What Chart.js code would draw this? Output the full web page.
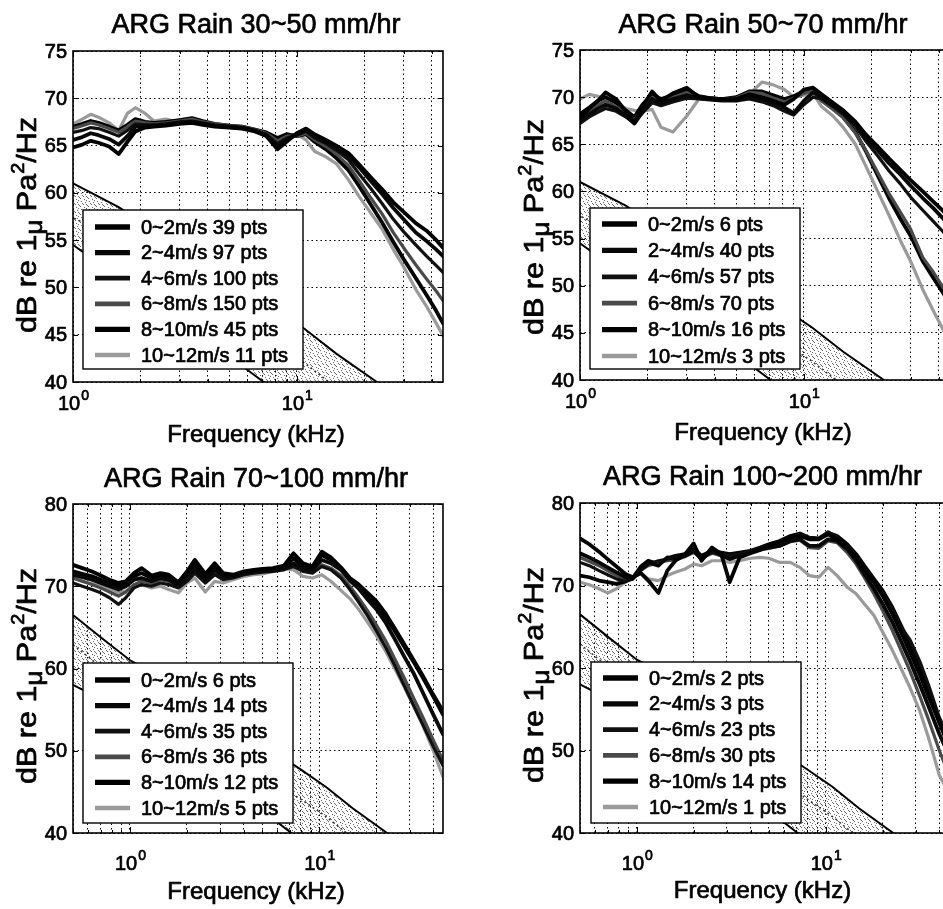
<!DOCTYPE html>
<html><head><meta charset="utf-8">
<script src="https://cdn.jsdelivr.net/npm/chart.js@4.4.1/dist/chart.umd.min.js"></script>
<style>
html,body{margin:0;padding:0;background:#fff;width:943px;height:909px;overflow:hidden;position:relative;}
canvas{position:absolute;}
</style></head><body>
<canvas id="c0" width="470" height="455" style="left:0px;top:0px"></canvas>
<canvas id="c1" width="500" height="455" style="left:470px;top:0px"></canvas>
<canvas id="c2" width="470" height="454" style="left:0px;top:455px"></canvas>
<canvas id="c3" width="500" height="454" style="left:470px;top:455px"></canvas>
<script>
// ---------------- data ----------------
const titles = ['ARG Rain 30~50 mm/hr','ARG Rain 50~70 mm/hr','ARG Rain 70~100 mm/hr','ARG Rain 100~200 mm/hr'];
const windLabels = ['0~2m/s','2~4m/s','4~6m/s','6~8m/s','8~10m/s','10~12m/s'];
const ptsA = [39,97,100,150,45,11];
const ptsB = [6,40,57,70,16,3];
const ptsC = [6,14,35,36,12,5];
const ptsD = [2,3,23,30,14,1];

const xTicksTop = [1,2,3,4,5,6,7,8,9,10,20,30,40];
const xTicksBot = [0.5,0.6,0.7,0.8,0.9,1,2,3,4,5,6,7,8,9,10,20,30,40];
const yTicksTop = [40,45,50,55,60,65,70,75];
const yTicksBot = [40,50,60,70,80];
const xDecades = [1,10];
const xDecadeExp = ['0','1'];

const freqTop = [1,1.1,1.2,1.3,1.45,1.6,1.75,1.9,2.1,2.3,2.6,3,3.4,3.8,4.3,5,5.7,6.5,7.3,8.2,9,10,11,12,13.5,15,17,19,21.5,24,27,30,34,38,42,45];
const freqBot = [0.5,0.56,0.63,0.7,0.78,0.87,0.95,1.05,1.15,1.3,1.45,1.6,1.8,2.0,2.2,2.5,2.8,3.1,3.5,4,4.5,5,5.7,6.5,7.3,8.2,9.2,10.3,11.5,13,14.5,16,18,20,22.5,25,28,31.5,35,40,45];

// ARG Rain 30~50 mm/hr
const a1 = [64.8,65.1,65.5,65.3,64.9,64.1,65.4,66.5,66.9,67.0,67.1,67.3,67.4,67.2,67.0,66.9,66.8,66.5,66.0,64.6,65.4,66.3,66.8,66.2,65.6,65.0,64.2,63.0,61.6,60.4,59.0,58.0,56.8,56.0,55.0,54.2];
const a2 = [65.6,65.9,66.3,66.1,65.7,65.1,66.0,67.0,67.1,67.1,67.2,67.4,67.5,67.3,67.1,67.0,66.9,66.6,66.1,64.9,65.6,66.2,66.6,66.0,65.4,64.8,63.9,62.7,61.2,59.9,58.4,57.2,55.8,54.9,54.0,53.3];
const a3 = [66.4,66.6,66.9,66.8,66.4,66.0,66.6,67.3,67.2,67.2,67.3,67.5,67.6,67.4,67.2,67.0,66.9,66.6,66.2,65.2,65.8,66.1,66.5,65.8,65.2,64.5,63.5,62.0,60.4,58.9,57.2,55.9,54.5,53.3,52.3,51.6];
const a4 = [66.8,67.1,67.4,67.2,66.8,66.4,67.0,67.6,67.4,67.3,67.4,67.6,67.8,67.5,67.3,67.1,67.0,66.7,66.3,65.5,66.0,66.0,66.3,65.6,64.9,64.1,62.9,61.3,59.4,57.8,55.8,54.2,52.4,50.9,49.6,48.6];
const a5 = [67.0,67.3,67.6,67.4,67.0,66.6,67.2,67.8,67.5,67.4,67.5,67.7,67.9,67.6,67.3,67.1,67.0,66.7,66.4,65.8,66.2,66.0,66.2,65.4,64.6,63.7,62.4,60.7,58.7,56.9,54.8,53.0,51.0,49.2,47.5,46.2];
const a6 = [67.3,67.8,68.3,68.0,67.4,66.6,68.4,69.0,68.4,67.6,67.8,67.4,67.9,67.4,67.1,66.9,66.8,66.5,66.2,65.6,66.0,66.2,65.6,64.4,63.8,63.1,61.4,59.6,57.8,56.2,54.0,52.2,49.8,48.0,46.2,44.9];

// ARG Rain 50~70 mm/hr
const b1 = [67.8,68.8,69.6,70.5,69.8,68.5,67.3,69.0,70.6,69.6,70.4,71.0,70.0,69.9,69.8,69.8,70.3,70.0,69.6,69.2,69.8,70.8,71.0,70.3,69.4,68.6,67.4,66.0,64.7,63.5,62.3,61.2,60.0,58.9,57.9,57.1];
const b2 = [67.5,68.2,68.8,69.2,68.8,68.0,67.2,68.4,69.8,69.3,69.8,70.2,69.9,69.8,69.7,69.7,70.0,69.8,69.4,68.9,68.3,69.6,70.5,70.0,69.2,68.4,67.2,65.7,64.3,63.0,61.8,60.6,59.3,58.2,57.1,56.3];
const b3 = [67.2,67.9,68.4,68.8,68.5,67.9,67.4,68.3,69.4,69.1,69.5,69.9,69.8,69.7,69.6,69.6,69.8,69.5,69.1,68.5,68.1,69.2,70.0,69.8,69.0,68.2,66.9,65.3,63.7,62.2,60.8,59.4,58.0,56.8,55.7,54.8];
const b4 = [67.9,68.6,69.2,69.6,69.0,68.2,67.6,68.8,70.0,69.5,70.0,70.5,70.0,69.9,69.8,69.9,70.5,70.4,69.9,69.5,69.9,70.4,70.7,69.6,68.7,67.8,66.2,64.3,61.9,59.8,57.8,56.0,53.0,51.4,49.8,48.8];
const b5 = [68.2,68.9,69.6,70.0,69.4,68.6,67.9,69.2,70.3,69.8,70.2,70.8,70.1,69.9,69.8,70.0,70.6,70.6,70.2,69.8,70.1,70.6,70.8,69.8,68.9,67.9,66.3,64.2,61.6,59.3,57.1,55.3,52.6,50.8,49.2,48.0];
const b6 = [69.8,70.3,70.1,69.8,69.4,68.8,68.6,68.5,68.7,66.8,66.3,68.0,69.8,69.9,69.8,69.6,70.3,71.6,71.3,70.8,70.0,70.2,70.4,69.0,68.0,66.8,65.0,62.6,59.9,57.5,54.8,52.6,49.6,47.3,45.3,44.0];

// ARG Rain 70~100 mm/hr
const c1 = [72.6,72.2,71.8,71.3,70.8,70.4,70.6,71.6,72.2,71.3,71.6,71.4,70.5,71.8,73.2,71.5,72.8,71.6,71.4,71.8,72.0,72.1,72.2,72.5,74.0,72.8,72.4,74.2,73.5,72.3,71.0,70.3,69.2,68.2,66.6,64.9,63.0,61.0,59.2,56.8,54.8];
const c2 = [71.4,71.1,70.8,70.4,70.0,69.6,70.0,70.8,71.0,70.6,71.0,70.8,70.1,71.2,72.0,70.8,72.0,71.2,71.2,71.6,71.8,71.9,72.0,72.2,72.8,72.2,72.0,73.2,72.8,72.0,70.7,69.8,68.4,67.2,65.5,63.6,61.5,59.4,57.2,54.4,52.0];
const c3 = [70.4,70.0,69.6,69.2,68.6,67.8,68.6,69.8,70.2,70.0,70.4,70.2,69.8,70.6,71.6,70.4,71.4,70.8,71.0,71.4,71.6,71.7,71.8,72.0,72.4,71.8,71.6,72.4,72.0,71.0,69.6,68.2,66.4,64.6,62.5,60.4,58.0,55.5,53.3,50.5,48.2];
const c4 = [71.0,70.6,70.2,69.8,69.3,68.8,69.3,70.2,70.6,70.3,70.8,70.6,70.0,70.9,71.8,70.6,71.6,71.0,71.2,71.5,71.7,71.8,72.0,72.2,72.6,72.0,71.8,72.6,72.2,71.3,70.0,68.7,67.0,65.3,63.3,61.2,58.9,56.4,54.2,51.3,48.8];
const c5 = [71.8,71.5,71.2,70.8,70.4,70.0,70.3,71.2,71.6,71.0,71.3,71.1,70.3,71.5,72.6,71.2,72.4,71.4,71.3,71.7,71.9,72.0,72.1,72.4,73.4,72.5,72.2,73.8,73.2,72.2,70.9,70.0,68.7,67.7,66.2,64.6,62.7,60.8,59.0,56.6,54.4];
const c6 = [71.0,70.6,70.3,70.0,69.6,69.2,69.4,70.0,70.2,69.8,70.0,69.6,69.2,70.4,71.0,69.3,70.6,70.4,70.8,71.2,71.4,71.5,71.8,72.2,72.0,71.2,71.0,71.4,70.6,69.5,68.5,67.3,65.6,64.0,62.0,60.0,57.8,55.4,53.2,50.0,46.8];

// ARG Rain 100~200 mm/hr
const d1 = [75.7,75.0,74.1,73.2,72.3,71.4,71.0,71.5,70.6,69.1,71.8,73.0,73.8,75.1,73.0,74.6,73.8,70.4,73.4,73.9,74.3,74.8,75.3,75.8,76.0,75.6,75.6,76.2,75.6,74.6,73.4,72.0,70.4,68.8,66.6,64.4,61.9,59.2,56.6,53.4,51.0];
const d2 = [73.9,73.4,72.8,72.2,71.6,71.0,70.8,72.0,72.8,72.4,73.4,73.2,73.6,74.2,73.2,74.4,73.6,73.2,73.6,74.0,74.4,74.6,74.8,75.4,75.6,74.8,74.8,75.6,75.4,74.4,73.0,71.4,69.6,67.8,65.6,63.3,60.8,58.0,55.4,52.0,49.4];
const d3 = [72.8,72.4,71.8,71.3,70.8,70.5,70.8,71.8,72.6,73.0,73.2,73.4,73.6,74.2,73.4,74.0,73.8,73.6,73.8,74.2,74.5,74.8,75.2,75.8,76.2,75.8,75.6,76.5,75.8,74.8,73.6,72.2,70.6,69.2,67.2,65.0,63.4,60.8,58.0,54.0,51.5];
const d4 = [73.4,72.9,72.4,71.8,71.2,70.8,70.9,71.9,72.4,72.8,73.0,73.1,73.5,74.0,73.3,73.9,73.6,73.4,73.7,74.0,74.3,74.5,74.8,75.3,75.5,74.6,74.5,75.4,75.2,74.0,72.6,71.0,69.0,67.0,64.6,62.2,59.6,56.6,53.8,50.0,47.0];
const d5 = [71.2,71.0,70.6,70.4,70.2,70.5,70.9,72.3,73.0,72.6,73.3,73.6,73.8,74.4,73.6,74.2,74.0,73.8,74.0,74.2,74.6,75.0,75.4,76.0,76.3,75.8,75.7,76.4,76.0,75.0,73.8,72.4,70.8,69.4,67.4,65.2,62.8,60.2,57.4,53.4,50.4];
const d6 = [70.4,70.1,69.6,69.1,69.6,70.4,70.9,71.5,70.8,70.6,71.2,71.6,72.0,72.6,72.4,73.0,73.0,72.8,73.0,73.3,73.4,73.3,72.8,72.8,72.2,71.2,71.0,72.2,71.2,69.8,69.0,67.8,66.4,64.4,62.2,60.0,57.6,54.8,51.6,47.0,44.8];

// shaded reference band (same in every panel)
const freqFloor  = [0.5,0.7,1,1.6,2.5,4,6,8,10.85,15,22.8,30,45];
const floorUpper = [66.5,63.8,61.0,58.5,55.5,52.4,49.6,47.7,45.6,43.0,40.0,38.0,35.0];
const floorMid   = [62.9,60.2,57.4,54.9,51.9,48.8,46.0,44.1,42.0,39.4,36.4,34.4,31.4];
const floorLower = [58.0,56.3,54.5,51.0,47.7,44.3,41.3,39.1,36.9,34.5,31.4,29.4,26.4];

// ---------------- styles ----------------
const FONT = "'Liberation Sans', Arial, Helvetica, sans-serif";
const seriesColors = ['#000000','#080808','#101010','#4a4a4a','#000000','#9a9a9a'];
const seriesWidths = [3.8,3.8,3.2,3.2,3.8,3.2];
const TEXT_STROKE = 0.7;

function makePattern(){
  const pc = document.createElement('canvas'); pc.width = 8; pc.height = 8;
  const g = pc.getContext('2d');
  g.fillStyle = 'rgba(0,0,0,0.6)';
  [[1,1],[5,2],[3,4],[7,5],[0,6],[4,7],[6,0],[2,3],[6,4]].forEach(([x,y]) => g.fillRect(x,y,1,1));
  return g.createPattern(pc,'repeat');
}
const stipple = makePattern();

const panels = [
  {id:'c0', title:titles[0], freq:freqTop, series:[a1,a2,a3,a4,a5,a6], pts:ptsA, xmin:1, xmax:45, ymin:40, ymax:75,
   xTicks:xTicksTop, yTicks:yTicksTop, pad:{left:73,top:51,right:27,bottom:73},
   legend:{x:83,y:210,w:220,h:159,first:17,step:25.6}, titleY:33, xlabelDy:60, xtickDy:28, ylabelCY:225},
  {id:'c1', title:titles[1], freq:freqTop, series:[b1,b2,b3,b4,b5,b6], pts:ptsB, xmin:1, xmax:45, ymin:40, ymax:75,
   xTicks:xTicksTop, yTicks:yTicksTop, pad:{left:110,top:50,right:20,bottom:75},
   legend:{x:120,y:208,w:210,h:161,first:16,step:26.4}, titleY:33, xlabelDy:60, xtickDy:28, ylabelCY:227},
  {id:'c2', title:titles[2], freq:freqBot, series:[c1,c2,c3,c4,c5,c6], pts:ptsC, xmin:0.5, xmax:45, ymin:40, ymax:80,
   xTicks:xTicksBot, yTicks:yTicksBot, pad:{left:73,top:49,right:27,bottom:76},
   legend:{x:83,y:208,w:210,h:160,first:17,step:25.6}, titleY:32, xlabelDy:66, xtickDy:37, ylabelCY:221},
  {id:'c3', title:titles[3], freq:freqBot, series:[d1,d2,d3,d4,d5,d6], pts:ptsD, xmin:0.5, xmax:45, ymin:40, ymax:80,
   xTicks:xTicksBot, yTicks:yTicksBot, pad:{left:110,top:48,right:21,bottom:76},
   legend:{x:121,y:207,w:210,h:161,first:16,step:25.8}, titleY:30, xlabelDy:65, xtickDy:37, ylabelCY:220}
];

function heavyText(ctx, s, x, y){
  ctx.lineWidth = TEXT_STROKE; ctx.strokeStyle = '#000'; ctx.lineJoin = 'round';
  ctx.strokeText(s, x, y); ctx.fillText(s, x, y);
}

function drawYLabel(ctx, x, cy){
  const parts = [['dB re 1',1,0],['\u03bc',0.85,6],[' Pa',1,0],['2',0.65,-12],['/Hz',1,0]];
  const base = 28, target = 216;
  let L = 0;
  parts.forEach(p => { ctx.font = (base*p[1]) + 'px ' + FONT; L += ctx.measureText(p[0]).width; });
  ctx.save();
  ctx.translate(x, cy); ctx.rotate(-Math.PI/2);
  ctx.scale(target / L, 1);
  ctx.textBaseline = 'alphabetic'; ctx.textAlign = 'left'; ctx.fillStyle = '#000';
  let px = -L/2;
  parts.forEach(p => { ctx.font = (base*p[1]) + 'px ' + FONT; heavyText(ctx, p[0], px, p[2]); px += ctx.measureText(p[0]).width; });
  ctx.restore();
}

function makeDecor(p){
  return {
    id:'decor',
    afterDatasetsDraw(chart){
      const ctx = chart.ctx, L = p.legend;
      ctx.save();
      ctx.fillStyle = '#fff'; ctx.fillRect(L.x, L.y, L.w, L.h);
      ctx.lineWidth = 1.4; ctx.strokeStyle = '#000'; ctx.strokeRect(L.x, L.y, L.w, L.h);
      ctx.font = '20px ' + FONT; ctx.textBaseline = 'middle'; ctx.textAlign = 'left';
      for (let i = 0; i < 6; i++){
        const ds = chart.data.datasets[i];
        const y = L.y + L.first + i*L.step;
        ctx.beginPath(); ctx.moveTo(L.x+12, y); ctx.lineTo(L.x+47, y);
        ctx.lineWidth = ds.borderWidth + 1.5; ctx.strokeStyle = ds.borderColor; ctx.lineCap = 'butt'; ctx.stroke();
        ctx.fillStyle = '#000';
        heavyText(ctx, windLabels[i] + ' ' + p.pts[i] + ' pts', L.x+58, y+1);
      }
      ctx.restore();
    },
    afterDraw(chart){
      const ctx = chart.ctx, a = chart.chartArea, xs = chart.scales.x, ys = chart.scales.y;
      ctx.save();
      // inward tick marks
      ctx.strokeStyle = '#000'; ctx.lineWidth = 1;
      p.xTicks.forEach(v => {
        const x = Math.round(xs.getPixelForValue(v)) + 0.5;
        const len = xDecades.includes(v) ? 6 : 3;
        ctx.beginPath(); ctx.moveTo(x, a.bottom); ctx.lineTo(x, a.bottom - len);
        ctx.moveTo(x, a.top); ctx.lineTo(x, a.top + len); ctx.stroke();
      });
      p.yTicks.forEach(v => {
        const y = Math.round(ys.getPixelForValue(v)) + 0.5;
        ctx.beginPath(); ctx.moveTo(a.left, y); ctx.lineTo(a.left + 5, y);
        ctx.moveTo(a.right, y); ctx.lineTo(a.right - 5, y); ctx.stroke();
      });
      // box
      ctx.lineWidth = 1.6; ctx.strokeRect(a.left, a.top, a.right - a.left, a.bottom - a.top);
      // y tick labels
      ctx.fillStyle = '#000'; ctx.font = '20px ' + FONT;
      ctx.textAlign = 'right'; ctx.textBaseline = 'middle';
      p.yTicks.forEach(v => heavyText(ctx, String(v), a.left - 6, ys.getPixelForValue(v) + 1));
      // x decade labels with superscript
      ctx.textAlign = 'left'; ctx.textBaseline = 'alphabetic';
      xDecades.forEach((v, k) => {
        const x = xs.getPixelForValue(v);
        ctx.font = '20px ' + FONT; const w1 = ctx.measureText('10').width;
        ctx.font = '14px ' + FONT; const w2 = ctx.measureText(xDecadeExp[k]).width;
        const x0 = x - (w1 + w2)/2, yb = a.bottom + p.xtickDy;
        ctx.font = '20px ' + FONT; heavyText(ctx, '10', x0, yb);
        ctx.font = '14px ' + FONT; heavyText(ctx, xDecadeExp[k], x0 + w1 + 1, yb - 10);
      });
      // x label
      ctx.textAlign = 'center'; ctx.font = '24px ' + FONT;
      heavyText(ctx, 'Frequency (kHz)', (a.left + a.right)/2 - 2, a.bottom + p.xlabelDy);
      // title
      ctx.font = '27px ' + FONT;
      heavyText(ctx, p.title, (a.left + a.right)/2 - 2, p.titleY);
      // y label
      drawYLabel(ctx, a.left - 37, p.ylabelCY);
      ctx.restore();
    }
  };
}

panels.forEach(p => {
  const toPts = (fx, vals) => fx.map((f, i) => ({x: f, y: vals[i]}));
  const datasets = p.series.map((s, i) => ({
    label: windLabels[i], data: toPts(p.freq, s),
    borderColor: seriesColors[i], borderWidth: seriesWidths[i],
    pointRadius: 0, tension: 0, fill: false, borderJoinStyle: 'round', borderCapStyle: 'round'
  }));
  datasets.push({label:'floorLower', data: toPts(freqFloor, floorLower), borderColor:'#000', borderWidth:2, pointRadius:0, fill:false});
  datasets.push({label:'floorMid', data: toPts(freqFloor, floorMid), borderColor:'#333', borderWidth:1.5, borderDash:[2,3], pointRadius:0, fill:false});
  datasets.push({label:'floorUpper', data: toPts(freqFloor, floorUpper), borderColor:'#000', borderWidth:2, pointRadius:0,
                 fill:{target:6}, backgroundColor: stipple});
  const gridCommon = {color:'#000', lineWidth:1, drawTicks:false};
  new Chart(document.getElementById(p.id), {
    type:'line',
    data:{datasets},
    options:{
      responsive:false, animation:false, devicePixelRatio:1,
      layout:{padding:p.pad},
      plugins:{legend:{display:false}, tooltip:{enabled:false}, title:{display:false}},
      scales:{
        x:{type:'logarithmic', min:p.xmin, max:p.xmax,
           afterBuildTicks: s => { s.ticks = p.xTicks.map(v => ({value:v})); },
           ticks:{display:false}, grid:gridCommon, border:{display:false, dash:[1.5,3]}},
        y:{type:'linear', min:p.ymin, max:p.ymax,
           afterBuildTicks: s => { s.ticks = p.yTicks.map(v => ({value:v})); },
           ticks:{display:false}, grid:gridCommon, border:{display:false, dash:[1.5,3]}}
      }
    },
    plugins:[makeDecor(p)]
  });
});
</script>
</body></html>
